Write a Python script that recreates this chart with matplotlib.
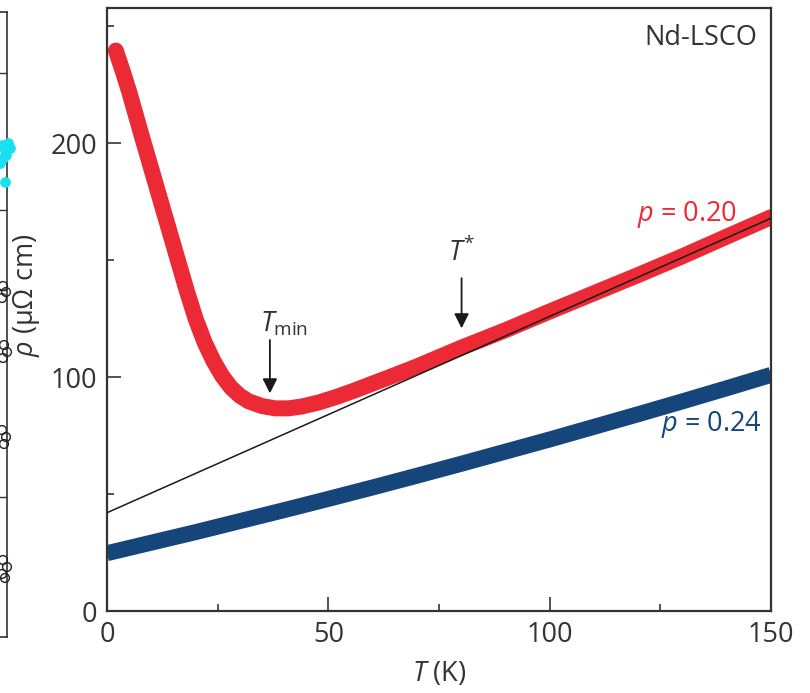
import numpy as np
import matplotlib.pyplot as plt
from matplotlib.ticker import MultipleLocator

plt.rcParams['font.family'] = ['Open Sans', 'DejaVu Sans']
plt.rcParams['mathtext.fontset'] = 'custom'
plt.rcParams['mathtext.rm'] = 'Open Sans'
plt.rcParams['mathtext.it'] = 'Open Sans:italic'

# resistivity of Nd-LSCO, p = 0.20
T_p20 = [2, 3.5, 5, 6.5, 8, 10, 12, 14, 16, 18, 20, 22, 24, 26, 28, 30, 32, 35, 38, 41,
         44, 48, 52, 56, 60, 65, 70, 75, 80, 90, 100, 110, 120, 130, 140, 150]
rho_p20 = [239.5, 231, 222, 212, 202, 189, 176, 163, 150, 137, 125, 115, 107, 100.5,
           95.5, 92, 89.6, 87.6, 86.6, 86.6, 87.4, 89.2, 91.6, 94.3, 97.2, 100.8, 104.5,
           108.5, 112.5, 120, 128, 135.8, 143.6, 151.6, 160, 168.3]

# p = 0.24
T_p24 = [0, 10, 20, 30, 40, 50, 60, 70, 80, 90, 100, 110, 120, 130, 140, 150]
rho_p24 = [24.7, 29.2, 33.7, 38.4, 43.1, 47.9, 52.8, 57.8, 62.9, 68.1, 73.3, 78.7, 84.1,
           89.6, 95.2, 100.9]

# linear fit to the high-T part of p = 0.20
fit_intercept = 42.0
fit_slope = 0.839

# arrows: T, tail rho, head rho
tmin_arrow = (36.8, 115.8, 93.0)
tstar_arrow = (80.1, 142.2, 120.8)

# neighbouring panel (only its right edge is visible)
frag_ticks = [0.903, 0.683, 0.555, 0.224]
frag_dot_x = [95, 98, 101, 103, 96, 99, 93, 98]
frag_dot_y = [492, 487, 494, 489, 479, 482, 474, 455]
frag_circ_x = [96, 99, 95, 97, 100, 96, 95, 99, 97, 96, 100, 95, 98]
frag_circ_y = [351, 345, 339, 292, 285, 279, 207, 200, 193, 77, 70, 63, 59]

red = '#ec2a35'
blue = '#16457b'
ink = '#333333'

fig = plt.figure(figsize=(8.1, 6.93), dpi=100)

# --- clipped left panel
axf = fig.add_axes([-93 / 810, 56 / 693, 100 / 810, 625 / 693])
axf.set_xlim(0, 100)
axf.set_ylim(0, 625)
axf.scatter(frag_dot_x, frag_dot_y, s=45, color='#19e0f0', zorder=3, clip_on=False)
axf.scatter(frag_circ_x, frag_circ_y, s=40, facecolors='none', edgecolors='#222222',
            linewidths=1.0, zorder=3, clip_on=False)
axf.set_yticks([t * 625 for t in frag_ticks])
axf.set_xticks([])
axf.tick_params(axis='y', left=False, right=True, labelleft=False, direction='in',
                length=12, width=1.0, color=ink)
for s in axf.spines.values():
    s.set_color(ink)
    s.set_linewidth(1.2)

# --- main panel
ax = fig.add_axes([107 / 810, 82 / 693, 664 / 810, 603 / 693])
ax.plot(T_p20, rho_p20, color=red, lw=11.5, solid_capstyle='round',
        solid_joinstyle='round', zorder=2)
ax.plot(T_p24, rho_p24, color=blue, lw=11.5, solid_capstyle='butt', zorder=2)
T_fit = np.linspace(0, 150, 50)
ax.plot(T_fit, fit_intercept + fit_slope * T_fit, color='#1a1a1a', lw=1.1, zorder=3)

ax.set_xlim(0, 150)
ax.set_ylim(0, 257.7)
ax.xaxis.set_major_locator(MultipleLocator(50))
ax.xaxis.set_minor_locator(MultipleLocator(25))
ax.yaxis.set_major_locator(MultipleLocator(100))
ax.yaxis.set_minor_locator(MultipleLocator(50))
ax.tick_params(which='both', direction='in', colors=ink, width=1.2, labelsize=19.5)
ax.tick_params(which='major', length=10, pad=7)
ax.tick_params(which='minor', length=5)
for s in ax.spines.values():
    s.set_color(ink)
    s.set_linewidth(1.6)

for x, y0, y1 in (tmin_arrow, tstar_arrow):
    ax.annotate('', xy=(x, y1), xytext=(x, y0),
                arrowprops=dict(arrowstyle='-|>', color='#1a1a1a', lw=1.3,
                                mutation_scale=22, shrinkA=0, shrinkB=0))

ax.text(34.6, 116.5, r'$T_{\rm min}$', fontsize=19.5, color=ink, ha='left', va='bottom')
ax.text(80.0, 146.6, r'$T^{*}$', fontsize=19.5, color=ink, ha='center', va='bottom')
ax.text(146.8, 241.9, 'Nd-LSCO', fontsize=19.5, color=ink, ha='right', va='baseline')
ax.text(142.3, 166.7, r'$p$ = 0.20', fontsize=19.5, color=red, ha='right', va='baseline')
ax.text(148.0, 76.9, r'$p$ = 0.24', fontsize=19.5, color=blue, ha='right', va='baseline')

ax.set_xlabel(r'$T$ (K)', fontsize=19.5, color=ink, labelpad=8)
fig.text(27 / 810, 1 - 295 / 693, r'$\rho$ (μΩ cm)', fontsize=19.5, color=ink,
         rotation=90, ha='center', va='center')

fig.savefig('out.png', dpi=100)
